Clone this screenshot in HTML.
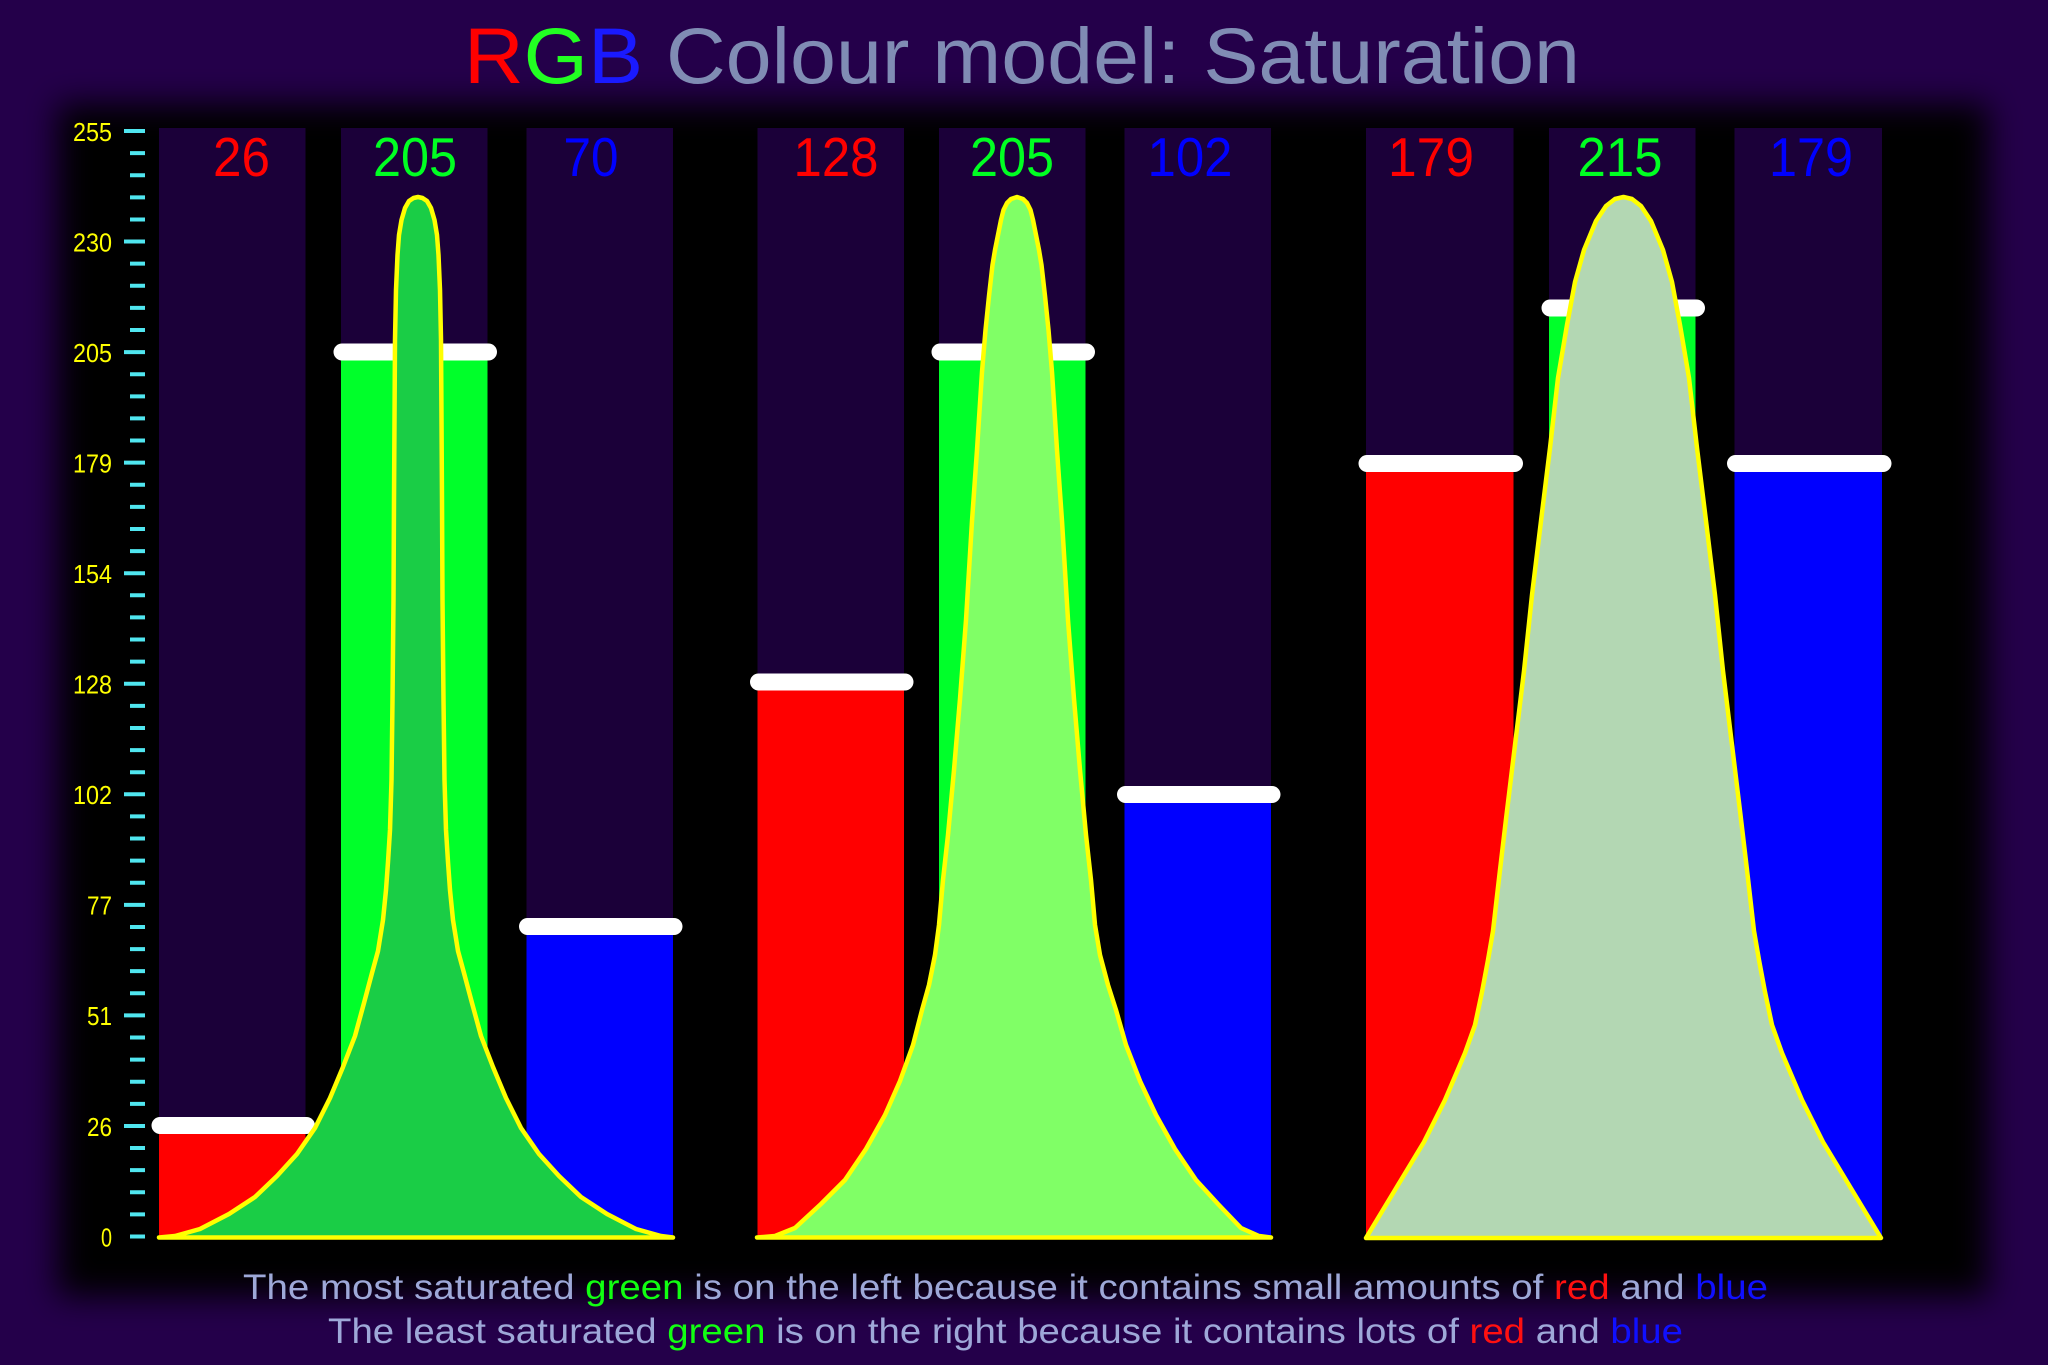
<!DOCTYPE html>
<html><head><meta charset="utf-8"><style>
html,body{margin:0;padding:0;background:#24004a;}
svg{display:block;}
text{font-family:"Liberation Sans",Arial,sans-serif;}
</style></head><body>
<svg width="2048" height="1365" viewBox="0 0 2048 1365" xmlns="http://www.w3.org/2000/svg">
<defs>
<filter id="bl" x="-10%" y="-10%" width="120%" height="120%"><feGaussianBlur stdDeviation="16"/></filter>
</defs>
<rect x="0" y="0" width="2048" height="1365" fill="#24004a"/>
<rect x="58" y="104" width="1930" height="1192" fill="#000" filter="url(#bl)"/>

<!-- title -->
<text x="464" y="83" font-size="79" textLength="1116" lengthAdjust="spacingAndGlyphs" fill="#808cb4"><tspan fill="#ff0000">R</tspan><tspan fill="#22ff22">G</tspan><tspan fill="#1a1aff">B</tspan> Colour model: Saturation</text>

<!-- ticks -->
<path stroke="#50e6f0" stroke-width="4" fill="none" d="M130 1236.5h15M130 1214.39h15M130 1192.28h15M130 1170.17h15M130 1148.06h15M124 1125.95h21M130 1103.84h15M130 1081.73h15M130 1059.62h15M130 1037.51h15M124 1015.4h21M130 993.29h15M130 971.18h15M130 949.07h15M130 926.96h15M124 904.85h21M130 882.74h15M130 860.63h15M130 838.52h15M130 816.41h15M124 794.3h21M130 772.19h15M130 750.08h15M130 727.97h15M130 705.86h15M124 683.75h21M130 661.64h15M130 639.53h15M130 617.42h15M130 595.31h15M124 573.2h21M130 551.09h15M130 528.98h15M130 506.87h15M130 484.76h15M124 462.65h21M130 440.54h15M130 418.43h15M130 396.32h15M130 374.21h15M124 352.1h21M130 329.99h15M130 307.88h15M130 285.77h15M130 263.66h15M124 241.55h21M130 219.44h15M130 197.33h15M130 175.22h15M130 153.11h15M124 131h21"/>
<g fill="#ffff00" font-size="26" text-anchor="end">
<text x="112" y="141" textLength="39" lengthAdjust="spacingAndGlyphs">255</text>
<text x="112" y="251.5" textLength="39" lengthAdjust="spacingAndGlyphs">230</text>
<text x="112" y="362" textLength="39" lengthAdjust="spacingAndGlyphs">205</text>
<text x="112" y="472.5" textLength="39" lengthAdjust="spacingAndGlyphs">179</text>
<text x="112" y="583" textLength="39" lengthAdjust="spacingAndGlyphs">154</text>
<text x="112" y="693.5" textLength="39" lengthAdjust="spacingAndGlyphs">128</text>
<text x="112" y="804" textLength="39" lengthAdjust="spacingAndGlyphs">102</text>
<text x="112" y="914.5" textLength="25" lengthAdjust="spacingAndGlyphs">77</text>
<text x="112" y="1025" textLength="25" lengthAdjust="spacingAndGlyphs">51</text>
<text x="112" y="1136" textLength="25" lengthAdjust="spacingAndGlyphs">26</text>
<text x="112" y="1246.5" textLength="11" lengthAdjust="spacingAndGlyphs">0</text>
</g>

<!-- columns -->
<g fill="#1b0039">
<rect x="159" y="128" width="146.5" height="1111"/>
<rect x="341" y="128" width="146.5" height="1111"/>
<rect x="526.5" y="128" width="146.5" height="1111"/>
<rect x="757.5" y="128" width="146.5" height="1111"/>
<rect x="939" y="128" width="146.5" height="1111"/>
<rect x="1124.5" y="128" width="146.5" height="1111"/>
<rect x="1366" y="128" width="147.5" height="1111"/>
<rect x="1549" y="128" width="146.5" height="1111"/>
<rect x="1734.5" y="128" width="147.5" height="1111"/>
</g>
<!-- bars -->
<rect x="159" y="1125.5" width="146.5" height="113" fill="#ff0000"/>
<rect x="341" y="352" width="146.5" height="886" fill="#00ff2a"/>
<rect x="526.5" y="926.5" width="146.5" height="311.5" fill="#0000ff"/>
<rect x="757.5" y="682" width="146.5" height="556" fill="#ff0000"/>
<rect x="939" y="352" width="146.5" height="886" fill="#00ff2a"/>
<rect x="1124.5" y="794.5" width="146.5" height="443.5" fill="#0000ff"/>
<rect x="1366" y="463.5" width="147.5" height="774.5" fill="#ff0000"/>
<rect x="1549" y="308" width="146.5" height="930" fill="#00ff2a"/>
<rect x="1734.5" y="463.5" width="147.5" height="774.5" fill="#0000ff"/>
<!-- caps -->
<g fill="#ffffff">
<rect x="151.5" y="1117" width="163.5" height="17" rx="8.5"/>
<rect x="333.5" y="343.5" width="163.5" height="17" rx="8.5"/>
<rect x="519" y="918" width="163.5" height="17" rx="8.5"/>
<rect x="750" y="673.5" width="163.5" height="17" rx="8.5"/>
<rect x="931.5" y="343.5" width="163.5" height="17" rx="8.5"/>
<rect x="1117" y="786" width="163.5" height="17" rx="8.5"/>
<rect x="1358.5" y="455" width="164.5" height="17" rx="8.5"/>
<rect x="1541.5" y="299.5" width="163.5" height="17" rx="8.5"/>
<rect x="1727" y="455" width="164.5" height="17" rx="8.5"/>
</g>

<!-- curves -->
<g stroke="#ffff00" stroke-width="4.5" stroke-linejoin="round">
<path fill="#1acd46" d="M159 1237.5L175 1236L200 1229L229 1214L255 1197L277 1176L297 1154L315 1128L330 1098L343 1067L355 1036L364 1003L372 973L378 951L383 920L386 890L388 862L390 830L391.5 780L392.5 700L393.5 600L394 500L394.5 420L395 340L396 290L397.5 255L399 235L401.5 220L405 208L409 201L413.5 198L418 197L422.5 198L427 201L431 208L434.5 220L437 235L438.5 255L440 290L441 340L441.5 420L442 500L442.5 600L443.5 700L444.5 780L446 830L448 862L450 890L453 920L458 951L464 973L472 1003L481 1036L493 1067L506 1098L521 1128L539 1154L559 1176L581 1197L607 1214L636 1229L661 1236L673 1237.5Z"/>
<path fill="#80ff66" d="M757 1237.5L775 1236L795 1228L821 1204L845 1180L866 1149L885 1115L900 1081L913 1045L922 1010L929 985L935 955L939 925L943 880L948 835L954 770L960 699L966 620L972 521L977 450L982 372L985.5 330L989 296L992.5 265L995 250L998 235L1001 220L1003.5 210L1007 203L1011 199L1017 197L1023 199L1027 203L1030.5 210L1033 220L1036 235L1039 250L1041.5 265L1045 296L1048.5 330L1052 372L1057 450L1062 521L1068 620L1074 699L1080 770L1086 835L1091 880L1095 925L1100 955L1108 985L1116 1010L1126 1045L1140 1081L1156 1115L1175 1149L1196 1180L1218 1204L1241 1228L1259 1236L1271 1237.5Z"/>
<path fill="#b3d7b3" d="M1366 1238L1395 1190L1424 1142L1445 1100L1465 1053L1475 1025L1482 992L1488 960L1493 931L1500 870L1506.5 815L1515 745L1524 671L1532 595L1541 521L1550 448L1558 378L1567 325L1575 282L1584 250L1596 221L1606 206L1615 199L1623.5 197L1632 199L1641 206L1651 221L1663 250L1672 282L1680 325L1689 378L1697 448L1706 521L1715 595L1723 671L1732 745L1740.5 815L1747 870L1754 931L1759 960L1765 992L1772 1025L1782 1053L1802 1100L1823 1142L1852 1190L1881 1238Z"/>
</g>

<!-- value labels -->
<g font-size="55" text-anchor="middle">
<text x="241.5" y="176" fill="#ff0000" textLength="57" lengthAdjust="spacingAndGlyphs">26</text>
<text x="415" y="176" fill="#00ff22" textLength="84" lengthAdjust="spacingAndGlyphs">205</text>
<text x="591" y="176" fill="#0000ff" textLength="55" lengthAdjust="spacingAndGlyphs">70</text>
<text x="836" y="176" fill="#ff0000" textLength="85" lengthAdjust="spacingAndGlyphs">128</text>
<text x="1012" y="176" fill="#00ff22" textLength="84" lengthAdjust="spacingAndGlyphs">205</text>
<text x="1190" y="176" fill="#0000ff" textLength="85" lengthAdjust="spacingAndGlyphs">102</text>
<text x="1431" y="176" fill="#ff0000" textLength="86" lengthAdjust="spacingAndGlyphs">179</text>
<text x="1620" y="176" fill="#00ff22" textLength="85" lengthAdjust="spacingAndGlyphs">215</text>
<text x="1811" y="176" fill="#0000ff" textLength="84" lengthAdjust="spacingAndGlyphs">179</text>
</g>

<!-- bottom text -->
<text x="243" y="1299" font-size="35" fill="#9ea8d8" textLength="1525" lengthAdjust="spacingAndGlyphs">The most saturated <tspan fill="#11ff11">green</tspan> is on the left because it contains small amounts of <tspan fill="#ff1010">red</tspan> and <tspan fill="#1010ff">blue</tspan></text>
<text x="328" y="1343" font-size="35" fill="#9ea8d8" textLength="1355" lengthAdjust="spacingAndGlyphs">The least saturated <tspan fill="#11ff11">green</tspan> is on the right because it contains lots of <tspan fill="#ff1010">red</tspan> and <tspan fill="#1010ff">blue</tspan></text>
</svg>
</body></html>
